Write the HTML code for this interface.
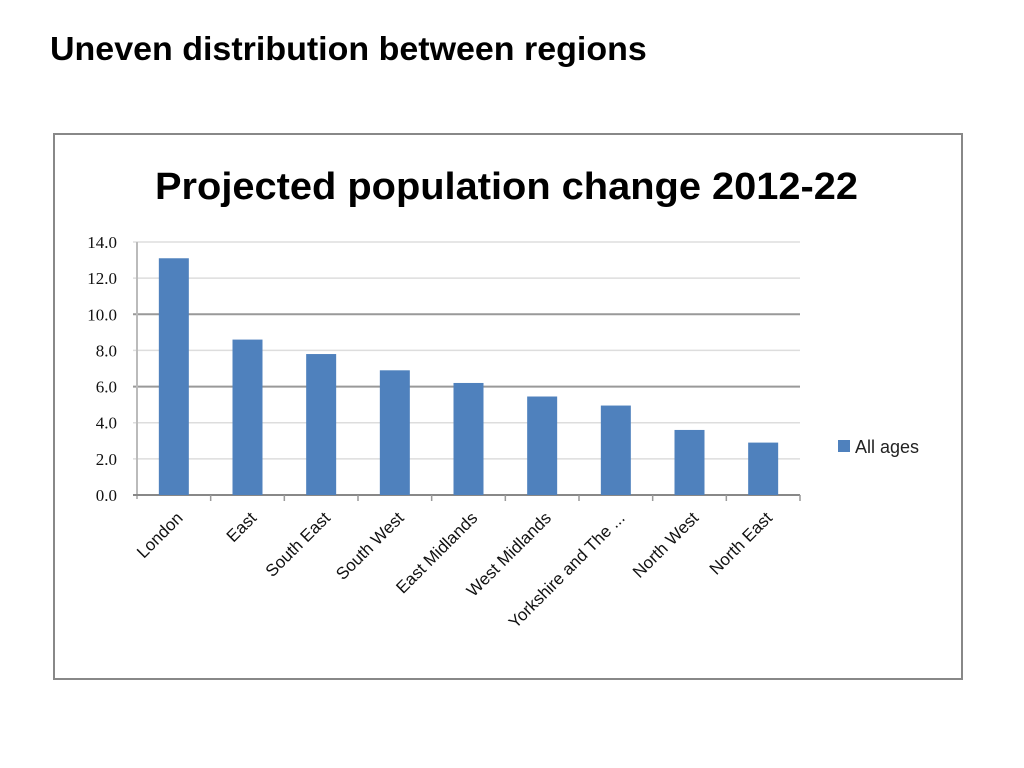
<!DOCTYPE html>
<html><head><meta charset="utf-8"><style>
body{margin:0;width:1024px;height:768px;background:#fff;font-family:"Liberation Sans",sans-serif;overflow:hidden}
#t{position:absolute;left:50px;top:30px;font-size:33px;font-weight:bold;color:#000;transform:scaleX(1.03);transform-origin:0 0;white-space:nowrap}
</style></head><body>
<div id="t">Uneven distribution between regions</div>
<svg id="c" width="1024" height="768" style="position:absolute;left:0;top:0">
<rect x="54" y="134" width="908" height="545" fill="#fff" stroke="#888" stroke-width="2"/>
<text x="155" y="199" textLength="703" lengthAdjust="spacingAndGlyphs" font-size="38" font-weight="bold" font-family="'Liberation Sans',sans-serif" fill="#000">Projected population change 2012-22</text>
<g id="g"></g>
<rect x="838" y="440" width="12" height="12" fill="#4f81bd"/>
<text x="855" y="453" font-size="18" fill="#222">All ages</text>
</svg>
<script>
const categories=["London","East","South East","South West","East Midlands","West Midlands","Yorkshire and The ...","North West","North East"];
const values=[13.1,8.6,7.8,6.9,6.2,5.45,4.95,3.6,2.9];
const ticks=[0,2,4,6,8,10,12,14];
const tickLabels=["0.0","2.0","4.0","6.0","8.0","10.0","12.0","14.0"];
const x0=137,x1=800,y0=495,y1=242,ymax=14;
const y=v=>y0-(v/ymax)*(y0-y1);
const bw=(x1-x0)/categories.length;
const xc=i=>x0+bw*(i+0.5);
const g=document.getElementById('g');const ns="http://www.w3.org/2000/svg";
function mk(t,a){const e=document.createElementNS(ns,t);for(const k in a)e.setAttribute(k,a[k]);g.appendChild(e);return e;}
ticks.forEach((v,i)=>{
 const dark=(v===10||v===6);
 const l=mk('line',{x1:x0-4,x2:x1,y1:y(v),y2:y(v),stroke:dark?'#999':'#ddd','stroke-width':dark?2:1.5});
 
 
 const t=mk('text',{x:x0-20,y:y(v)+6,'text-anchor':'end','font-size':17,fill:'#111','font-family':'Liberation Serif,serif'});
 t.textContent=tickLabels[i];
 
 
});
const ax=mk('line',{x1:x0,x2:x0,y1:y1,y2:y0+4,stroke:'#bbb','stroke-width':2});


const xa=mk('line',{x1:x0-4,x2:x1,y1:y0,y2:y0,stroke:'#888','stroke-width':2});


categories.forEach((c,i)=>{
 const tk=mk('line',{x1:x0+bw*(i+1),x2:x0+bw*(i+1),y1:y0,y2:y0+6,stroke:'#999','stroke-width':1.5});
 
 
 const b=mk('rect',{x:xc(i)-15,y:y(values[i]),width:30,height:y0-y(values[i]),fill:'#4f81bd'});
 
 
 const t=mk('text',{x:xc(i)+10,y:y0+24,'text-anchor':'end','font-size':17,fill:'#111',transform:`rotate(-45 ${xc(i)+10} ${y0+24})`});
 t.textContent=c;
 
 
});
</script>
</body></html>
